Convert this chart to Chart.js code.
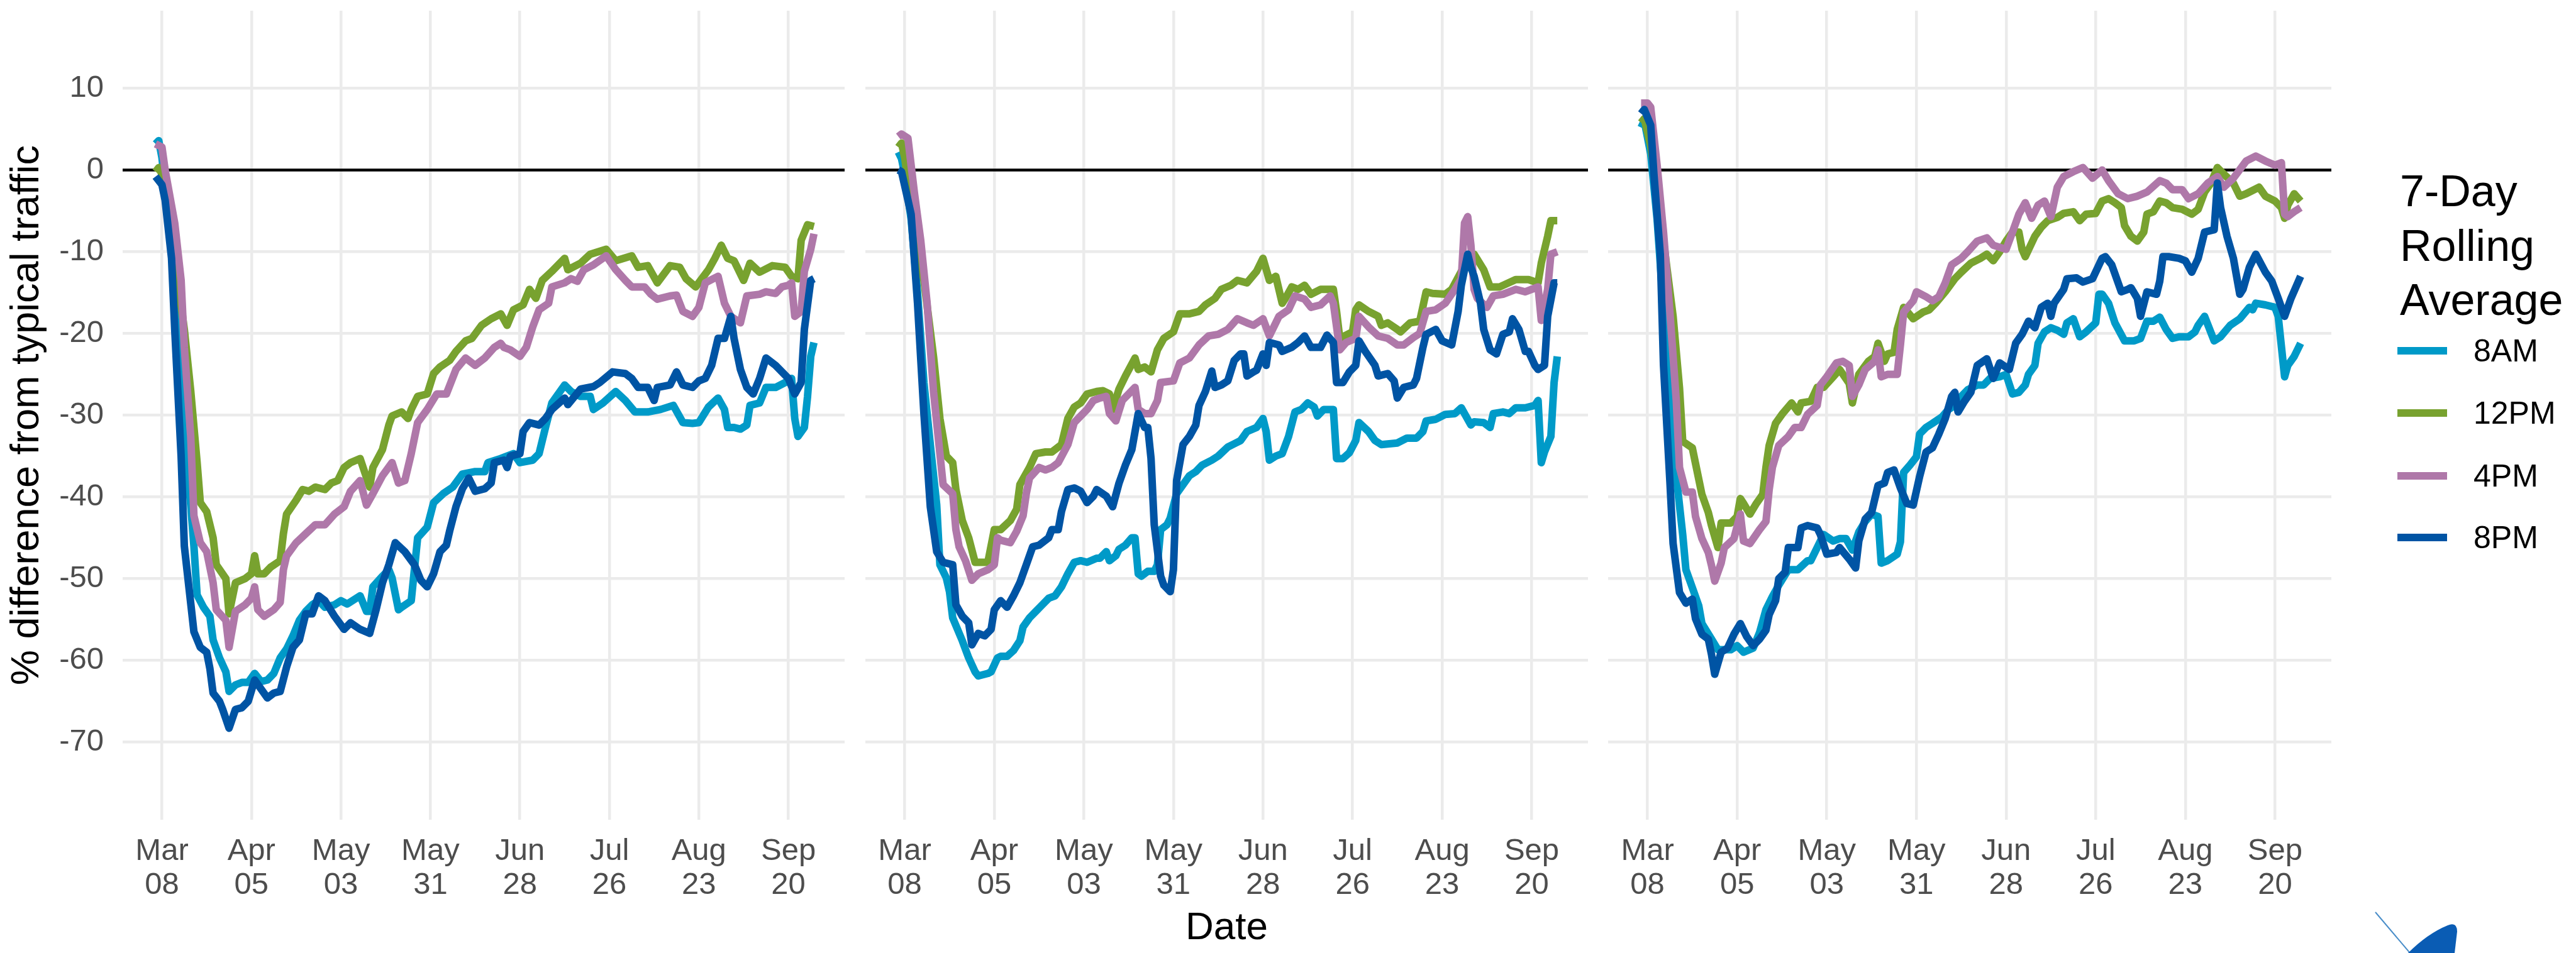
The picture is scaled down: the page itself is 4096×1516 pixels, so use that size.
<!DOCTYPE html>
<html>
<head>
<meta charset="utf-8">
<title>Traffic vs typical</title>
<script src="https://cdn.jsdelivr.net/npm/chart.js@4.4.1/dist/chart.umd.min.js"></script>
<style>
  body { margin: 0; background: #fff; width: 4096px; height: 1516px; overflow: hidden; position: relative;
         font-family: "Liberation Sans", Arial, sans-serif; }
  canvas { position: absolute; top: 0; }
  #legendTitle { position: absolute; left: 3816px; top: 261px; font-size: 70px; line-height: 86.5px; color: #000; }
  .key { position: absolute; left: 3812px; width: 79px; height: 12px; }
  .keyLabel { position: absolute; left: 3933px; font-size: 50px; line-height: 50px; color: #000; }
  #logo { position: absolute; left: 3760px; top: 1440px; }
</style>
</head>
<body>
<canvas id="panel1" width="1343" height="1516" style="left:0px"></canvas>
<canvas id="panel2" width="1149" height="1516" style="left:1376px"></canvas>
<canvas id="panel3" width="1150" height="1516" style="left:2557px"></canvas>
<div id="legendTitle">7-Day<br>Rolling<br>Average</div>
<div id="legend"></div>
<svg id="logo" width="170" height="76" viewBox="0 0 170 76">
  <line x1="17" y1="11" x2="72" y2="76" stroke="#4a8ec9" stroke-width="2"/>
  <path d="M69,76 Q100,45 132,32 Q147,26 147,42 L143,76 Z" fill="#0a5cb4"/>
</svg>
<script>
// days counted from Mar 08 2020, values = % difference from typical traffic
const seriesNames = ['8AM', '12PM', '4PM', '8PM'];
const seriesColors = ['#009AC8', '#78A22F', '#AF78A9', '#0054A4'];

const tickDays = [0, 28, 56, 84, 112, 140, 168, 196];
const tickLabels = [['Mar', '08'], ['Apr', '05'], ['May', '03'], ['May', '31'],
                    ['Jun', '28'], ['Jul', '26'], ['Aug', '23'], ['Sep', '20']];
const yTicks = [10, 0, -10, -20, -30, -40, -50, -60, -70];

// panel 1
const p1_8am = [[-2,3.2],[-1,3.6],[0,1.5],[1,-2],[3,-10],[5,-20],[7,-33],[9,-41],[10,-46],[11,-52],[13,-53.5],[15,-54.6],[16,-57.5],[18,-59.7],[20,-61.4],[21,-63.8],[23,-63],[25,-62.7],[27,-62.7],[29,-61.6],[31,-62.6],[33,-62.4],[35,-61.6],[37,-59.7],[39,-58.6],[41,-57],[43,-55.1],[45,-54],[47,-53.2],[49,-52.7],[51,-53.5],[54,-53.2],[56,-52.7],[58,-53.1],[60,-52.6],[62,-52.1],[64,-54],[65,-54],[66,-51],[69,-49.7],[71,-48.9],[72,-49.9],[74,-53.8],[75,-53.5],[78,-52.7],[80,-45],[83,-43.7],[85,-40.7],[88,-39.6],[91,-38.8],[94,-37.2],[98,-36.9],[101,-36.9],[102,-35.8],[106,-35.3],[110,-34.7],[112,-35.8],[116,-35.5],[118,-34.7],[120,-31.5],[122,-28.5],[124,-27.4],[126,-26.3],[128,-27.1],[131,-27.7],[134,-27.7],[135,-29.3],[138,-28.5],[142,-27.1],[145,-28.2],[148,-29.6],[152,-29.6],[156,-29.3],[160,-28.8],[163,-30.9],[166,-31],[168,-30.9],[171,-29],[174,-27.9],[176,-29.3],[177,-31.5],[179,-31.5],[181,-31.7],[183,-31.2],[184,-28.8],[187,-28.5],[189,-26.6],[192,-26.6],[196,-25.8],[197,-25.5],[198,-30.4],[199,-32.6],[201,-31.5],[202,-27.7],[203,-22.8],[204,-21.1]];
const p1_12pm = [[-2,-0.2],[-1,0.3],[0,-0.5],[2,-4],[4,-10.8],[7,-19.5],[9,-27],[11,-35.8],[12,-40.7],[14,-41.8],[16,-45],[17,-48.3],[20,-50],[21,-54.3],[23,-50.5],[26,-50],[28,-49.4],[29,-47.2],[30,-49.4],[32,-49.4],[34,-48.6],[37,-47.8],[38,-44.5],[39,-42.1],[42,-40.4],[44,-39.1],[46,-39.3],[48,-38.8],[51,-39.1],[53,-38.3],[55,-38],[57,-36.4],[59,-35.8],[62,-35.3],[65,-38.8],[66,-36.4],[69,-34.2],[71,-31.2],[72,-30.1],[75,-29.6],[77,-30.4],[78,-29.3],[80,-27.7],[83,-27.4],[85,-24.9],[87,-24.1],[90,-23.3],[92,-22.2],[95,-20.9],[97,-20.6],[100,-19],[103,-18.2],[106,-17.6],[108,-19],[110,-17.1],[113,-16.5],[115,-14.6],[117,-15.7],[119,-13.5],[122,-12.4],[126,-10.8],[127,-12.2],[131,-11.4],[134,-10.3],[139,-9.7],[142,-11.1],[147,-10.5],[149,-11.9],[152,-11.7],[155,-13.8],[159,-11.7],[162,-11.9],[164,-13.3],[167,-14.3],[171,-12.2],[173,-10.8],[175,-9.2],[177,-10.8],[179,-11.1],[182,-13.5],[184,-11.4],[187,-12.5],[191,-11.7],[195,-11.9],[197,-13],[199,-13.3],[200,-8.6],[202,-6.7],[204,-6.9]];
const p1_4pm = [[-2,3.2],[0,2.8],[1,0],[4,-6.5],[6,-13.5],[7,-21.7],[9,-32.6],[10,-42.3],[12,-45.6],[14,-46.7],[16,-50.5],[17,-53.8],[20,-55.1],[21,-58.4],[23,-54],[26,-53.2],[28,-52.4],[29,-51],[30,-53.8],[32,-54.6],[35,-53.8],[37,-52.9],[38,-48.9],[39,-47.2],[42,-45.6],[45,-44.5],[48,-43.4],[51,-43.4],[54,-42.1],[57,-41.2],[59,-39.3],[62,-38],[64,-41],[66,-39.6],[69,-37.4],[72,-35.8],[74,-38.3],[76,-38],[78,-34.7],[80,-30.9],[83,-29.3],[86,-27.4],[89,-27.4],[92,-24.4],[95,-23],[98,-23.9],[101,-23],[104,-21.7],[106,-21.2],[107,-21.7],[109,-22],[112,-22.8],[114,-21.7],[116,-19.2],[118,-17.1],[121,-16.3],[122,-14.3],[126,-13.8],[128,-13.3],[130,-13.6],[132,-12.2],[135,-11.6],[139,-10.5],[142,-12.2],[145,-13.5],[147,-14.3],[151,-14.3],[153,-15.2],[155,-15.8],[159,-15.4],[161,-15.3],[163,-17.3],[166,-17.9],[168,-16.8],[170,-13.8],[174,-13],[176,-16.3],[178,-17.9],[181,-18.7],[183,-15.4],[187,-15.2],[189,-14.9],[192,-15.1],[194,-14.3],[196,-14.1],[197,-13.8],[198,-17.9],[200,-17.3],[201,-12.4],[203,-9.7],[204,-7.8]];
const p1_8pm = [[-2,-0.8],[0,-1.8],[1,-3.7],[3,-10.8],[4,-19.5],[6,-35],[7,-46],[9,-53],[10,-56.5],[12,-58.4],[14,-59],[15,-61],[16,-64],[18,-65],[19,-66],[21,-68.3],[23,-66],[25,-65.8],[27,-65],[29,-62.4],[31,-63.5],[33,-64.6],[35,-64],[37,-63.8],[39,-60.8],[41,-58.4],[43,-57.5],[45,-54.3],[47,-54.3],[49,-52.1],[51,-52.7],[54,-54.6],[57,-56.2],[59,-55.4],[62,-56.2],[65,-56.7],[67,-53.8],[69,-50.5],[71,-48.3],[73,-45.6],[76,-46.7],[79,-48.3],[81,-50.2],[83,-51],[85,-49.4],[87,-46.7],[89,-45.9],[90,-44.2],[92,-41.2],[94,-39],[96,-37.7],[98,-39.3],[101,-39],[103,-38.3],[104,-35.8],[107,-35.5],[108,-36.4],[109,-35],[112,-34.7],[113,-32],[115,-30.9],[118,-31.2],[120,-30.4],[122,-29.3],[126,-27.9],[127,-28.7],[131,-26.8],[135,-26.5],[137,-26],[141,-24.7],[145,-24.9],[147,-25.5],[149,-26.6],[152,-26.6],[154,-28.2],[155,-26.6],[159,-26.3],[161,-24.7],[163,-26.3],[166,-26.6],[168,-25.8],[170,-25.5],[172,-23.9],[174,-20.6],[176,-20.6],[178,-17.9],[179,-20.6],[181,-24.4],[183,-26.6],[185,-27.4],[187,-25.5],[189,-23],[192,-23.9],[196,-25.5],[198,-27.4],[200,-26],[201,-19.5],[203,-13.5],[204,-13.3]];

// panel 2
const p2_8am = [[-2,2.2],[-1,1.4],[0,-0.5],[2,-6],[4,-15],[6,-26],[8,-33.6],[10,-41],[11,-48.3],[13,-49.9],[14,-51.6],[15,-54.8],[18,-57.6],[20,-59.7],[22,-61.4],[23,-61.9],[26,-61.6],[27,-61.4],[29,-59.7],[30,-59.5],[32,-59.5],[34,-58.8],[36,-57.6],[37,-55.9],[39,-54.8],[41,-54],[43,-53.2],[45,-52.4],[47,-52.1],[49,-51],[51,-49.4],[53,-48],[55,-47.8],[57,-48],[60,-47.5],[61,-47.5],[63,-46.7],[64,-47.8],[66,-47.2],[67,-46.4],[69,-45.9],[71,-45],[72,-45],[73,-49.4],[74,-49.7],[76,-49.1],[78,-49.1],[79,-48.3],[80,-44],[82,-43.4],[83,-42.6],[85,-39.6],[87,-38.5],[89,-37.4],[91,-36.9],[93,-36.1],[96,-35.5],[98,-35],[101,-33.9],[103,-33.5],[105,-33.1],[107,-32],[110,-31.5],[112,-30.4],[113,-32],[114,-35.5],[116,-35],[118,-34.7],[120,-32.6],[122,-29.6],[124,-29.3],[126,-28.5],[128,-29],[129,-30.1],[131,-29.3],[134,-29.3],[135,-35.3],[137,-35.3],[139,-34.6],[141,-33.1],[142,-30.9],[145,-32],[147,-33.1],[149,-33.6],[154,-33.4],[157,-32.8],[160,-32.8],[162,-32],[163,-30.7],[166,-30.5],[169,-29.9],[172,-29.8],[174,-29.1],[177,-31.2],[178,-30.8],[181,-30.9],[183,-31.5],[184,-29.8],[187,-29.6],[189,-29.8],[191,-29.1],[194,-29.1],[197,-28.8],[198,-28.2],[199,-35.8],[200,-34.5],[202,-32.6],[203,-26],[204,-22.8]];
const p2_12pm = [[-2,2.8],[-1,3.3],[0,1.5],[3,-7],[6,-13.5],[9,-22.8],[11,-30.4],[13,-35],[15,-35.8],[16,-39.1],[18,-42.9],[20,-45],[22,-48],[24,-48],[26,-48],[28,-44],[30,-44],[33,-42.9],[35,-41.5],[36,-38.5],[39,-36.4],[41,-34.7],[44,-34.5],[46,-34.5],[49,-33.6],[51,-30.4],[53,-29],[55,-28.5],[57,-27.4],[60,-27.1],[62,-27],[64,-27.4],[65,-29.3],[67,-26.8],[69,-25.2],[72,-23],[73,-24.4],[75,-24.1],[77,-24.7],[79,-22],[81,-20.6],[84,-19.8],[86,-17.6],[89,-17.6],[92,-17.3],[94,-16.5],[97,-15.7],[99,-14.6],[102,-14.1],[104,-13.5],[107,-13.8],[110,-12.4],[112,-10.8],[114,-13.5],[116,-13],[118,-16.3],[119,-15.7],[121,-14.3],[123,-14.6],[125,-14.1],[127,-15.2],[130,-14.6],[134,-14.6],[135,-17.3],[136,-20.6],[140,-19.8],[141,-17.1],[142,-16.5],[145,-17.3],[148,-17.9],[149,-19],[151,-18.7],[154,-19.5],[155,-19.8],[158,-18.7],[161,-18.5],[163,-14.9],[165,-15.1],[169,-15.2],[171,-14.6],[174,-12.4],[176,-11.6],[178,-10.3],[181,-12.2],[183,-14.3],[186,-14.3],[191,-13.4],[195,-13.4],[198,-13.8],[199,-11.4],[201,-8.1],[202,-6.2],[204,-6.2]];
const p2_4pm = [[-2,4.1],[-1,4.4],[1,3.9],[3,-2.7],[5,-8.6],[7,-16.3],[9,-27.1],[11,-34.7],[12,-38.5],[15,-39.6],[16,-44],[17,-46.1],[19,-47.8],[21,-50.2],[23,-49.4],[26,-48.9],[28,-48.3],[29,-45],[30,-45.3],[33,-45.6],[35,-44.2],[37,-42.3],[38,-39.6],[39,-37.7],[42,-36.4],[44,-36.7],[46,-36.4],[48,-35.8],[51,-33.6],[53,-30.9],[55,-30.1],[57,-29.3],[59,-28.2],[61,-27.9],[63,-27.7],[64,-29.8],[66,-30.7],[68,-28.2],[70,-27.4],[72,-26.6],[73,-29.3],[75,-29.8],[77,-29.8],[79,-28.2],[80,-26],[84,-25.8],[86,-23.6],[89,-23],[92,-21.4],[95,-20.3],[98,-20.1],[101,-19.5],[104,-18.2],[107,-18.7],[109,-19],[112,-18.2],[114,-20.3],[117,-17.9],[120,-17.1],[122,-15.4],[125,-15.8],[127,-16.8],[130,-16.5],[133,-15.4],[134,-16.3],[136,-22],[138,-21.1],[141,-20.6],[142,-17.9],[145,-19.2],[148,-20.3],[151,-20.6],[154,-21.4],[156,-21.4],[159,-20.5],[161,-20],[163,-17.3],[166,-17.1],[169,-16.3],[172,-14.6],[174,-13.3],[175,-6.5],[176,-5.7],[177,-9.2],[178,-14.6],[179,-15.7],[182,-16.8],[184,-15.4],[187,-15.2],[191,-14.6],[194,-14.9],[198,-14.3],[199,-18.4],[201,-14.6],[202,-10.3],[204,-10]];
const p2_8pm = [[-2,0],[-1,-0.2],[2,-5.4],[4,-16.3],[6,-29.8],[8,-41.2],[10,-46.7],[12,-48],[15,-48.3],[16,-53.2],[18,-54.6],[20,-55.4],[21,-58.1],[23,-56.7],[25,-57],[27,-56.2],[28,-53.8],[30,-52.7],[32,-53.5],[34,-52.1],[36,-50.5],[38,-48.3],[40,-46.1],[42,-45.9],[45,-45],[46,-44],[48,-44],[49,-41.8],[51,-39.1],[53,-38.9],[55,-39.3],[57,-40.7],[59,-39.9],[60,-39.1],[63,-39.9],[65,-41.2],[67,-38.3],[69,-36.1],[71,-34.2],[73,-29.8],[75,-31.5],[76,-31.5],[77,-35.3],[78,-43.4],[80,-49.7],[81,-50.8],[83,-51.6],[84,-48.9],[85,-38],[87,-33.6],[89,-32.6],[91,-31.2],[92,-28.8],[94,-27.1],[96,-24.6],[97,-26.6],[99,-26.3],[101,-25.8],[103,-23.3],[105,-22.5],[106,-22.5],[107,-25.2],[109,-24.7],[110,-24.5],[112,-22.5],[113,-23.9],[114,-21.1],[117,-21.4],[118,-22.2],[121,-21.7],[123,-21.1],[125,-20.3],[127,-21.7],[130,-21.7],[132,-20.2],[134,-21.1],[135,-26],[137,-26],[139,-24.7],[141,-23.9],[142,-20.9],[144,-22.2],[147,-23.9],[148,-25.2],[151,-24.9],[153,-25.8],[154,-27.9],[156,-26.6],[159,-26.3],[160,-25.5],[162,-21.7],[163,-20.1],[166,-19.5],[168,-20.9],[171,-21.4],[173,-17.3],[174,-14.1],[176,-10.3],[177,-11.9],[178,-13],[180,-16.3],[181,-19.5],[183,-22],[185,-22.5],[187,-20.1],[189,-19.8],[190,-18.2],[192,-19.5],[194,-22.2],[195,-22.2],[197,-23.9],[198,-24.4],[200,-23.9],[201,-17.9],[203,-13.8],[204,-13.8]];

// panel 3
const p3_8am = [[-2,5.2],[-1,6],[1,2],[3,-6],[5,-17],[7,-28],[9,-37.5],[11,-44.6],[12,-48.9],[14,-51.1],[16,-53.3],[17,-55.5],[20,-57.4],[22,-58.7],[23,-58.7],[26,-58.7],[28,-58.2],[30,-59],[33,-58.5],[35,-56.6],[37,-53.8],[39,-52.2],[41,-50.8],[44,-48.9],[47,-48.9],[50,-47.8],[51,-47.8],[53,-46.2],[55,-44.6],[58,-45.4],[60,-45.1],[62,-45.1],[64,-46.5],[66,-44.3],[68,-43],[70,-42.1],[72,-42.4],[73,-48.1],[75,-47.8],[78,-47],[79,-45.5],[80,-37],[82,-36.1],[84,-35.1],[85,-32.3],[87,-31.5],[89,-31],[92,-30.2],[94,-29.3],[96,-28.8],[98,-27.7],[100,-26.9],[103,-26.3],[105,-26.3],[107,-25.5],[110,-25.3],[112,-25],[114,-27.4],[116,-27.2],[118,-26.3],[119,-25],[121,-23.9],[122,-21.2],[124,-19.8],[126,-19.3],[128,-19.6],[130,-20.1],[131,-18.7],[133,-18.2],[135,-20.4],[137,-19.8],[140,-18.7],[141,-15.2],[142,-15.2],[144,-16.3],[146,-18.7],[149,-20.9],[152,-20.9],[154,-20.6],[156,-18.5],[158,-18.5],[160,-18],[162,-19.5],[164,-20.6],[166,-20.4],[169,-20.4],[171,-19.8],[172,-19],[174,-17.9],[177,-20.9],[179,-20.4],[182,-19],[185,-18.2],[188,-16.8],[189,-17.1],[190,-16.3],[193,-16.5],[196,-16.8],[197,-17.9],[199,-25.3],[200,-23.9],[202,-22.8],[204,-21.2]];
const p3_12pm = [[-2,5.8],[-1,6.3],[1,3],[3,-2.1],[5,-8.7],[8,-17.9],[10,-26.7],[11,-33.2],[14,-34],[15,-35.9],[17,-39.7],[19,-41.9],[20,-43.5],[22,-46.2],[23,-43.2],[26,-43.2],[28,-42.4],[29,-40.2],[30,-40.8],[32,-42.1],[34,-40.8],[36,-39.7],[37,-36.4],[38,-33.7],[40,-31],[42,-29.9],[45,-28.5],[47,-29.6],[48,-28.5],[51,-28.3],[53,-26.6],[55,-26.6],[58,-25.3],[60,-24.4],[63,-26.1],[64,-28.5],[66,-25],[69,-23.4],[71,-22.8],[72,-21.2],[74,-23.4],[75,-22.5],[77,-22.3],[78,-19.5],[80,-16.8],[83,-18.2],[86,-17.4],[88,-17.1],[90,-16.3],[93,-14.9],[96,-13.3],[98,-12.5],[101,-11.4],[104,-10.8],[106,-10.3],[108,-11.1],[110,-10],[112,-8.7],[114,-7.6],[116,-7.6],[117,-9.7],[118,-10.6],[121,-8.1],[123,-7],[125,-6.2],[128,-5.8],[130,-5.3],[133,-5.1],[135,-6.2],[137,-5.4],[140,-5.3],[142,-3.8],[144,-3.5],[146,-4],[148,-4.6],[149,-6.8],[151,-8.1],[153,-8.7],[155,-7.6],[156,-5.4],[158,-5.1],[160,-3.8],[162,-4],[164,-4.6],[167,-4.8],[170,-5.4],[172,-4.8],[174,-2.7],[176,-1.6],[178,0.3],[180,-0.5],[183,-1.6],[185,-3.2],[187,-2.9],[191,-2.1],[193,-3.2],[196,-3.8],[198,-4.6],[199,-5.9],[200,-4.3],[202,-2.9],[204,-3.8]];
const p3_4pm = [[-2,8.2],[0,8.2],[1,7.7],[3,0.6],[5,-7.6],[7,-17.4],[9,-28.3],[10,-36.4],[12,-39.4],[14,-39.4],[15,-42.4],[17,-45.1],[19,-46.8],[20,-48.4],[21,-50.3],[23,-48.1],[24,-46.2],[27,-45.1],[29,-42.1],[30,-45.4],[32,-45.7],[35,-44],[37,-43],[38,-39.1],[39,-36.4],[41,-33.7],[44,-32.6],[46,-31.5],[48,-31.5],[50,-29.9],[53,-28.8],[54,-26.3],[56,-25.3],[59,-23.6],[61,-23.4],[63,-23.9],[64,-27.7],[66,-26.3],[68,-24.4],[71,-23.4],[72,-22],[73,-25.3],[75,-25],[78,-25],[79,-21.4],[80,-17.4],[83,-16],[84,-14.9],[87,-15.5],[89,-16],[91,-15.5],[93,-13.8],[95,-11.6],[98,-10.8],[100,-10],[103,-8.7],[106,-8.3],[108,-9.2],[112,-9.7],[114,-7.6],[116,-5.4],[118,-4],[120,-5.9],[122,-4.3],[124,-3.8],[126,-5.7],[128,-2.1],[130,-0.8],[133,-0.2],[136,0.3],[139,-1],[142,0],[144,-1.3],[147,-2.9],[150,-3.5],[153,-3.2],[156,-2.7],[160,-1.3],[162,-1.6],[164,-2.4],[167,-2.4],[169,-3.5],[172,-2.9],[175,-1.6],[178,-0.8],[180,-2.1],[183,-1],[187,1.1],[190,1.7],[193,1.1],[196,0.6],[198,0.9],[199,-5.4],[200,-5.7],[202,-5.1],[204,-4.6]];
const p3_8pm = [[-2,6.9],[-1,7.4],[1,5.5],[2,-0.5],[4,-10.3],[5,-23.9],[7,-38.1],[8,-45.7],[10,-51.7],[12,-53],[14,-52.5],[15,-54.9],[17,-56.8],[19,-57.4],[20,-59.3],[21,-61.7],[23,-59],[25,-58.5],[27,-56.8],[29,-55.5],[31,-57.1],[33,-58.2],[35,-57.4],[37,-56.3],[38,-54.4],[40,-52.7],[41,-50],[43,-49.2],[44,-46.2],[47,-46.2],[48,-43.8],[50,-43.5],[53,-43.8],[54,-44.6],[56,-47],[59,-46.8],[60,-46.2],[63,-47.6],[65,-48.7],[66,-45.4],[68,-42.7],[70,-41.9],[72,-38.6],[74,-38.3],[75,-37],[77,-36.7],[79,-38.9],[81,-40.8],[83,-41],[85,-37.5],[87,-34.5],[89,-34],[91,-32.3],[93,-30.4],[95,-27.7],[96,-27.2],[97,-29.6],[99,-28.3],[101,-27.2],[103,-23.9],[106,-23.1],[108,-25.5],[110,-23.6],[113,-24.4],[115,-21.2],[117,-20.1],[119,-18.5],[121,-19.3],[123,-16.8],[125,-16.3],[126,-17.9],[127,-16.3],[130,-14.6],[131,-13.3],[134,-13.2],[136,-13.7],[139,-13.3],[142,-10.8],[143,-10.6],[145,-11.6],[148,-14.9],[150,-14.6],[151,-14.4],[153,-15.7],[154,-17.9],[156,-14.9],[159,-15.2],[160,-13.6],[161,-10.6],[163,-10.6],[166,-10.8],[168,-11.1],[170,-12.5],[172,-10.8],[174,-7.6],[177,-7.3],[178,-1.6],[179,-4.6],[181,-8.1],[183,-10.8],[185,-15.2],[186,-14.6],[188,-11.9],[190,-10.3],[193,-12.5],[195,-13.6],[197,-15.7],[199,-17.9],[201,-15.7],[204,-13]];

const panelSeries = [
  [p1_8am, p1_12pm, p1_4pm, p1_8pm],
  [p2_8am, p2_12pm, p2_4pm, p2_8pm],
  [p3_8am, p3_12pm, p3_4pm, p3_8pm]
];

const FONT = '"Liberation Sans", Arial, sans-serif';
const GRID = '#EBEBEB';

// black reference line at 0, drawn over the grid but under the series
const zeroLine = {
  id: 'zeroLine',
  beforeDatasetsDraw(chart) {
    const { ctx, chartArea, scales } = chart;
    const y = scales.y.getPixelForValue(0);
    ctx.save();
    ctx.strokeStyle = '#000';
    ctx.lineWidth = 4.5;
    ctx.beginPath();
    ctx.moveTo(chartArea.left, y);
    ctx.lineTo(chartArea.right, y);
    ctx.stroke();
    ctx.restore();
  }
};

function makePanel(canvasId, series, showY, xTitle) {
  const ctx = document.getElementById(canvasId).getContext('2d');

  const datasets = series.map((pts, i) => ({
    label: seriesNames[i],
    data: pts.map(p => ({ x: p[0], y: p[1] })),
    borderColor: seriesColors[i],
    borderWidth: 12,
    pointRadius: 0,
    tension: 0,
    fill: false,
    borderJoinStyle: 'round',
    borderCapStyle: 'butt',
    order: series.length - 1 - i
  }));

  return new Chart(ctx, {
    type: 'line',
    data: { datasets: datasets },
    options: {
      responsive: false,
      devicePixelRatio: 1,
      animation: false,
      events: [],
      layout: { padding: { top: 17, left: 0, right: 0, bottom: 0 } },
      scales: {
        x: {
          type: 'linear',
          min: -12.3,
          max: 213.6,
          border: { display: false },
          grid: { color: GRID, lineWidth: 4.5, drawTicks: false },
          afterBuildTicks: scale => { scale.ticks = tickDays.map(v => ({ value: v })); },
          afterFit: scale => { scale.height = 212; scale.paddingLeft = 0; scale.paddingRight = 0; },
          ticks: {
            autoSkip: false,
            maxRotation: 0,
            padding: 24,
            color: '#4D4D4D',
            font: { family: FONT, size: 49, lineHeight: 1.1 },
            callback: value => tickLabels[tickDays.indexOf(value)]
          },
          title: {
            display: !!xTitle,
            text: xTitle || '',
            color: '#000',
            font: { family: FONT, size: 62, lineHeight: 1 },
            padding: { top: 0, bottom: 8 }
          }
        },
        y: {
          type: 'linear',
          min: -79.5,
          max: 19.5,
          border: { display: false },
          grid: { color: GRID, lineWidth: 4.5, drawTicks: false },
          afterBuildTicks: scale => { scale.ticks = yTicks.map(v => ({ value: v })); },
          afterFit: scale => { scale.width = showY ? 195 : 0; scale.paddingTop = 0; scale.paddingBottom = 0; },
          ticks: {
            display: showY,
            padding: 30,
            color: '#4D4D4D',
            font: { family: FONT, size: 49 },
            callback: value => String(value)
          },
          title: {
            display: showY,
            text: '% difference from typical traffic',
            color: '#000',
            font: { family: FONT, size: 63, lineHeight: 1 },
            padding: { top: 12, bottom: 0 }
          }
        }
      },
      plugins: {
        legend: { display: false },
        tooltip: { enabled: false }
      }
    },
    plugins: [zeroLine]
  });
}

makePanel('panel1', panelSeries[0], true, null);
makePanel('panel2', panelSeries[1], false, 'Date');
makePanel('panel3', panelSeries[2], false, null);

// legend on the right, built from the series names and colours
const legendEl = document.getElementById('legend');
const keyCentres = [558, 657, 757, 855];
seriesNames.forEach((name, i) => {
  const key = document.createElement('div');
  key.className = 'key';
  key.style.top = (keyCentres[i] - 6) + 'px';
  key.style.background = seriesColors[i];
  legendEl.appendChild(key);

  const label = document.createElement('div');
  label.className = 'keyLabel';
  label.style.top = (keyCentres[i] - 25) + 'px';
  label.textContent = name;
  legendEl.appendChild(label);
});
</script>
</body>
</html>
